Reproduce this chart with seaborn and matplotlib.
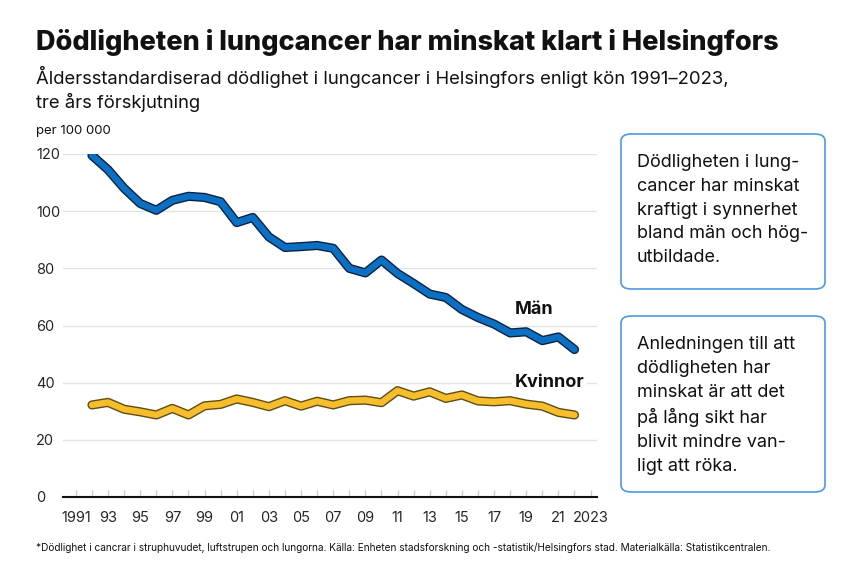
import pandas as pd
import matplotlib.pyplot as plt
import matplotlib.patheffects as pe
from matplotlib.patches import FancyBboxPatch
import seaborn as sns

years = list(range(1992, 2023))
man = [119.5, 114.5, 108.0, 102.7, 100.3, 103.8, 105.2, 104.8, 103.3, 96.0,
       97.8, 91.0, 87.3, 87.6, 88.0, 87.0, 80.0, 78.4, 82.9, 78.2,
       74.7, 71.0, 69.8, 65.6, 62.8, 60.5, 57.4, 57.8, 54.7, 56.0, 51.6]
kvinnor = [32.2, 33.1, 30.7, 29.8, 28.7, 31.0, 28.7, 31.9, 32.4, 34.3,
           33.1, 31.6, 33.7, 31.8, 33.5, 32.2, 33.7, 33.9, 33.0, 37.2,
           35.3, 36.8, 34.5, 35.7, 33.6, 33.3, 33.7, 32.5, 31.8, 29.6, 28.7]
tick_years = list(range(1991, 2024, 2))
tick_labels = ["1991"] + [str(y)[2:] for y in tick_years[1:-1]] + ["2023"]

df = pd.DataFrame({"year": years * 2,
                   "value": man + kvinnor,
                   "kon": ["Män"] * len(years) + ["Kvinnor"] * len(years)})

sns.set_theme(style="white")
plt.rcParams["font.family"] = ["Inter", "DejaVu Sans"]

fig = plt.figure(figsize=(8.63, 5.76), dpi=100)
ax = fig.add_axes([63 / 863, 1 - 497 / 576, (597 - 63) / 863, (497 - 154) / 576])

colors = {"Män": "#0b6fc4", "Kvinnor": "#f6be2c"}
edges = {"Män": "#0c2340", "Kvinnor": "#5e4d12"}
sns.lineplot(data=df, x="year", y="value", hue="kon", palette=colors,
             linewidth=4.6, legend=False, ax=ax)
for line, k in zip(ax.get_lines(), ["Män", "Kvinnor"]):
    line.set_solid_capstyle("round")
    line.set_solid_joinstyle("round")
    line.set_path_effects([pe.Stroke(linewidth=6.6, foreground=edges[k]), pe.Normal()])
    line.set_zorder(4)

ax.set_xlim(1990.2, 2023.4)
ax.set_ylim(0, 120)
ax.set_yticks([0, 20, 40, 60, 80, 100, 120])
ax.grid(axis="y", color="#e3e3e3", linewidth=1)
ax.set_xticks(tick_years)
ax.set_xticklabels(tick_labels)
ax.set_xticks(list(range(1991, 2024)), minor=True)
ax.tick_params(axis="x", which="both", length=5, color="#cccccc", width=1,
               labelsize=10.5, pad=10, bottom=True, direction="in")
ax.tick_params(axis="y", length=0, labelsize=10.5, pad=0)
for t in ax.get_yticklabels():
    t.set_horizontalalignment("left")
    t.set_x(-27 / 534)
for s in ["top", "right", "left"]:
    ax.spines[s].set_visible(False)
ax.spines["bottom"].set_color("#111111")
ax.spines["bottom"].set_linewidth(1.5)
ax.set_xlabel("")
ax.set_ylabel("")

ax.text(2018.3, 65.5, "Män", fontsize=13, fontweight="bold", color="#111111", va="center")
ax.text(2018.3, 40, "Kvinnor", fontsize=13, fontweight="bold", color="#111111", va="center",
        bbox=dict(facecolor="white", edgecolor="none", pad=2), zorder=5)

fig.text(36 / 863, 1 - 43 / 576, "Dödligheten i lungcancer har minskat klart i Helsingfors",
         fontsize=19.5, fontweight="heavy", va="center", color="#111111")
fig.text(36 / 863, 1 - 77 / 576,
         "Åldersstandardiserad dödlighet i lungcancer i Helsingfors enligt kön 1991–2023,",
         fontsize=13.3, va="center", color="#111111")
fig.text(36 / 863, 1 - 102 / 576, "tre års förskjutning", fontsize=13.3, va="center", color="#111111")
fig.text(36 / 863, 1 - 131 / 576, "per 100 000", fontsize=9.5, va="center", color="#111111")
fig.text(36 / 863, 1 - 548 / 576,
         "*Dödlighet i cancrar i struphuvudet, luftstrupen och lungorna. Källa: Enheten stadsforskning och "
         "-statistik/Helsingfors stad. Materialkälla: Statistikcentralen.",
         fontsize=7.25, va="center", color="#111111")

boxes = [(134, 289, "Dödligheten i lung-\ncancer har minskat\nkraftigt i synnerhet\nbland män och hög-\nutbildade."),
         (316, 492, "Anledningen till att\ndödligheten har\nminskat är att det\npå lång sikt har\nblivit mindre van-\nligt att röka.")]
for top, bottom, txt in boxes:
    box = FancyBboxPatch((621 / 863, 1 - bottom / 576), (825 - 621) / 863, (bottom - top) / 576,
                         boxstyle="round,pad=0,rounding_size=0.012", transform=fig.transFigure,
                         facecolor="white", edgecolor="#4a9be0", linewidth=1.2)
    fig.patches.append(box)
    fig.text(637 / 863, 1 - (top + 20) / 576, txt, fontsize=13, va="top", color="#111111",
             linespacing=1.52)

fig.savefig("out.png", dpi=100)
